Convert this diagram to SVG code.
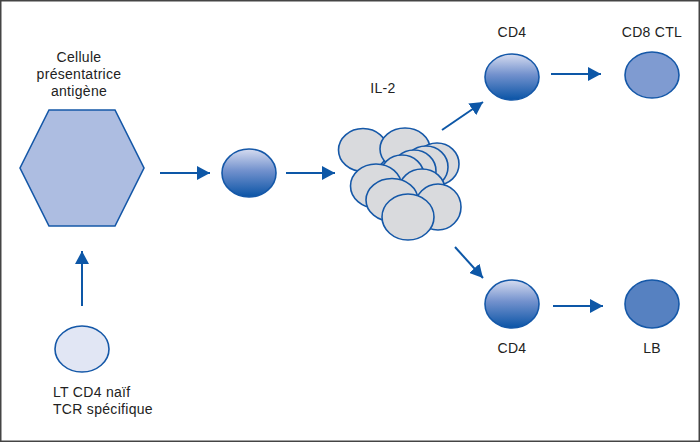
<svg xmlns="http://www.w3.org/2000/svg" width="700" height="442" viewBox="0 0 700 442">
<style>
text{font-family:"Liberation Sans",Arial,sans-serif;font-size:14px;letter-spacing:0.3px;fill:#222}
.c{text-anchor:middle}
.cell{fill:#d9dadd;stroke:#1558a8;stroke-width:1.6}
.node{stroke:#1558a8;stroke-width:1.6}
.arr{stroke:#0d57a7;stroke-width:2;fill:none;marker-end:url(#ah)}
</style>
<defs>
<linearGradient id="g" x1="0" y1="0" x2="0" y2="1">
<stop offset="0" stop-color="#d6dcf0"/>
<stop offset="0.45" stop-color="#7291cd"/>
<stop offset="1" stop-color="#0a54a6"/>
</linearGradient>
<marker id="ah" markerWidth="14" markerHeight="14" viewBox="0 0 14 14" refX="13" refY="7" orient="auto" markerUnits="userSpaceOnUse">
<path d="M0,0 L13,7 L0,14 Z" fill="#0d57a7"/>
</marker>
</defs>
<rect x="0.75" y="0.75" width="698.5" height="440.5" fill="#fff" stroke="#444" stroke-width="1.5"/>

<g id="apc">
<polygon class="node" points="20,168 49,110 115,110 144,168 115,226 49,226" fill="#adbde1"/>
<text class="c" x="79" y="62">Cellule</text>
<text class="c" x="79" y="79">présentatrice</text>
<text class="c" x="79" y="96">antigène</text>
</g>

<g id="naive">
<ellipse class="node" cx="82" cy="349" rx="27" ry="23" fill="#e1e6f4"/>
<text x="53" y="397">LT CD4 naïf</text>
<text x="53" y="414">TCR spécifique</text>
</g>

<g id="activated">
<ellipse class="node" cx="249" cy="173" rx="27" ry="24" fill="url(#g)"/>
</g>

<g id="cluster">
<ellipse class="cell" cx="363" cy="150" rx="24.5" ry="21.5"/>
<ellipse class="cell" cx="405" cy="149" rx="25" ry="21"/>
<ellipse class="cell" cx="437" cy="164" rx="22" ry="21"/>
<ellipse class="cell" cx="426" cy="167" rx="22" ry="21"/>
<ellipse class="cell" cx="414" cy="171" rx="22" ry="21"/>
<ellipse class="cell" cx="402" cy="176" rx="22" ry="21"/>
<ellipse class="cell" cx="376" cy="186" rx="25.5" ry="22"/>
<ellipse class="cell" cx="422" cy="190" rx="23" ry="21"/>
<ellipse class="cell" cx="438" cy="207" rx="23" ry="23"/>
<ellipse class="cell" cx="392" cy="200" rx="26" ry="21.5"/>
<ellipse class="cell" cx="408" cy="217" rx="26" ry="23"/>
<text class="c" x="383" y="93">IL-2</text>
</g>

<g id="cd4top">
<ellipse class="node" cx="512" cy="77" rx="27" ry="23" fill="url(#g)"/>
<text class="c" x="512" y="37">CD4</text>
</g>

<g id="cd8">
<ellipse class="node" cx="652" cy="75" rx="27" ry="23" fill="#7f9bd1"/>
<text class="c" x="652" y="37">CD8 CTL</text>
</g>

<g id="cd4bottom">
<ellipse class="node" cx="512" cy="304" rx="27" ry="24" fill="url(#g)"/>
<text class="c" x="512" y="353">CD4</text>
</g>

<g id="lb">
<ellipse class="node" cx="652" cy="304" rx="27" ry="24" fill="#5681c1"/>
<text class="c" x="652" y="353">LB</text>
</g>

<g id="connectors">
<line class="arr" x1="160" y1="173" x2="210" y2="173"/>
<line class="arr" x1="286" y1="173" x2="335" y2="173"/>
<line class="arr" x1="82" y1="306" x2="82" y2="251"/>
<line class="arr" x1="442" y1="130" x2="483" y2="102"/>
<line class="arr" x1="455" y1="247" x2="483" y2="278"/>
<line class="arr" x1="551" y1="74" x2="601" y2="74"/>
<line class="arr" x1="553" y1="306" x2="603" y2="306"/>
</g>
</svg>
